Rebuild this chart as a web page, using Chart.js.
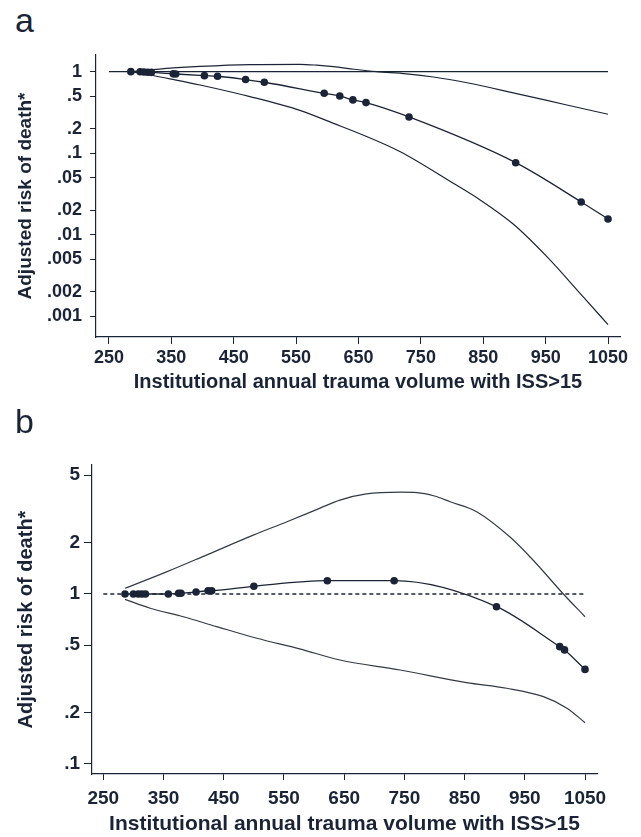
<!DOCTYPE html>
<html>
<head>
<meta charset="utf-8">
<script src="https://cdn.jsdelivr.net/npm/chart.js@4/dist/chart.umd.min.js"></script>
<style>
  body { margin: 0; background: #fff; }
  #wrap { position: relative; width: 641px; height: 837px; overflow: hidden; }
  canvas { position: absolute; left: 0; }
  .panel { position: absolute; left: 15px; font: 34px "Liberation Sans", Arial, sans-serif; color: #1b2437; line-height: 1; }
</style>
</head>
<body>
<div id="wrap">
  <div class="panel" style="top:3px">a</div>
  <canvas id="chartA" width="641" height="405" style="top:0"></canvas>
  <div class="panel" style="top:404px">b</div>
  <canvas id="chartB" width="641" height="432" style="top:405px"></canvas>
</div>
<script>
// ===============================
// DATA
// ===============================
const xTicks = [250, 350, 450, 550, 650, 750, 850, 950, 1050];
const xTickLabels = ["250", "350", "450", "550", "650", "750", "850", "950", "1050"];

const yTicksA = [1, 0.5, 0.2, 0.1, 0.05, 0.02, 0.01, 0.005, 0.002, 0.001];
const yTickLabelsA = ["1", ".5", ".2", ".1", ".05", ".02", ".01", ".005", ".002", ".001"];
const yTicksB = [5, 2, 1, 0.5, 0.2, 0.1];
const yTickLabelsB = ["5", "2", "1", ".5", ".2", ".1"];

const refX = [250, 1050];
const refY = [1, 1];

// panel a
const volumesA = [285, 300, 306, 312, 318, 353, 357, 403, 424, 469, 499, 595, 620, 641, 662, 731, 902, 1007, 1050];
const riskA = [1.0, 0.995, 0.99, 0.985, 0.98, 0.94, 0.935, 0.893, 0.878, 0.8, 0.741, 0.543, 0.503, 0.45, 0.417, 0.278, 0.0764, 0.0252, 0.0156];
const upperXA = [285, 316, 353, 396, 476, 556, 583, 610, 643, 679, 727, 770, 824, 898, 984, 1050];
const upperA = [1.0, 1.05, 1.11, 1.16, 1.22, 1.23, 1.2, 1.15, 1.07, 1.0, 0.94, 0.86, 0.73, 0.55, 0.39, 0.3];
const lowerXA = [285, 316, 350, 396, 476, 556, 610, 663, 717, 802, 845, 898, 952, 1011, 1050];
const lowerA = [1.0, 0.91, 0.81, 0.686, 0.494, 0.335, 0.232, 0.16, 0.104, 0.0427, 0.0267, 0.0135, 0.00537, 0.0017, 0.00079];

// panel b
const volumesB = [286, 300, 308, 314, 320, 358, 375, 379, 404, 424, 430, 500, 622, 733, 903, 1008, 1016, 1050];
const riskB = [1, 1, 1, 1, 1, 1, 1.01, 1.01, 1.027, 1.045, 1.046, 1.11, 1.197, 1.197, 0.842, 0.49, 0.469, 0.36];
const upperXB = [286, 355, 422, 499, 555, 610, 643, 687, 743, 771, 800, 826, 870, 925, 964, 1014, 1050];
const upperB = [1.08, 1.35, 1.7, 2.22, 2.66, 3.2, 3.57, 3.88, 3.97, 3.95, 3.77, 3.49, 3.05, 2.17, 1.58, 1.0, 0.735];
const lowerXB = [286, 328, 383, 438, 505, 576, 643, 743, 853, 920, 981, 1020, 1050];
const lowerB = [0.93, 0.824, 0.735, 0.643, 0.549, 0.476, 0.409, 0.357, 0.301, 0.279, 0.249, 0.213, 0.175];

const INK = "#1b2437";
const FONT = "'Liberation Sans', Arial, sans-serif";

const pts = (xs, ys) => xs.map((x, i) => ({ x: x, y: ys[i] }));

function makeChart(id, o) {
    const datasets = [
        { data: pts(refX, refY), borderColor: INK, borderWidth: o.refWidth, borderDash: o.refDash, pointRadius: 0 },
        { data: pts(o.upX, o.up), borderColor: o.ciColor, borderWidth: 1.2, pointRadius: 0, cubicInterpolationMode: "monotone" },
        { data: pts(o.loX, o.lo), borderColor: o.ciColor, borderWidth: 1.2, pointRadius: 0, cubicInterpolationMode: "monotone" },
        { data: pts(o.vol, o.risk), borderColor: INK, borderWidth: 1.3, pointRadius: 3.8,
          pointBackgroundColor: INK, pointBorderWidth: 0, cubicInterpolationMode: "monotone" }
    ];

    return new Chart(document.getElementById(id), {
        type: "line",
        data: { datasets: datasets },
        options: {
            responsive: false,
            animation: false,
            devicePixelRatio: 1,
            layout: { padding: o.padding },
            plugins: { legend: { display: false }, tooltip: { enabled: false } },
            scales: {
                x: {
                    type: "linear",
                    min: o.xMin, max: o.xMax,
                    afterBuildTicks: s => { s.ticks = xTicks.map(v => ({ value: v })); },
                    afterFit: s => { s.height = o.xHeight; },
                    grid: { drawOnChartArea: false, tickLength: o.xTickLen, color: INK },
                    border: { color: INK, width: 1.2 },
                    ticks: {
                        autoSkip: false, maxRotation: 0, padding: o.xPad, color: INK,
                        font: { family: FONT, weight: "bold", size: o.tickSize },
                        callback: v => xTickLabels[xTicks.indexOf(v)]
                    },
                    title: {
                        display: true, text: "Institutional annual trauma volume with ISS>15", color: INK,
                        font: { family: FONT, weight: "bold", size: o.xTitleSize },
                        padding: { top: 0, bottom: o.xTitlePad }
                    }
                },
                y: {
                    type: "logarithmic",
                    min: o.yMin, max: o.yMax,
                    afterBuildTicks: s => { s.ticks = o.yTicks.map(v => ({ value: v })); },
                    afterFit: s => { s.width = o.yWidth; },
                    grid: { drawOnChartArea: false, tickLength: o.yTickLen, color: INK },
                    border: { color: INK, width: 1.2 },
                    ticks: {
                        autoSkip: false, padding: o.yPad, color: INK,
                        font: { family: FONT, weight: "bold", size: o.tickSize },
                        callback: v => o.yLabels[o.yTicks.indexOf(v)]
                    },
                    title: {
                        display: true, text: "Adjusted risk of death*", color: INK,
                        font: { family: FONT, weight: "bold", size: o.yTitleSize },
                        padding: { top: 14, bottom: 0 }
                    }
                }
            }
        }
    });
}

makeChart("chartA", {
    vol: volumesA, risk: riskA, upX: upperXA, up: upperA, loX: lowerXA, lo: lowerA,
    refDash: [], refWidth: 1.2, ciColor: INK,
    padding: { top: 55, right: 21, left: 0, bottom: 0 },
    xMin: 229.2, xMax: 1069.2, yMin: 0.000556, yMax: 1.6,
    yTicks: yTicksA, yLabels: yTickLabelsA,
    xHeight: 68, yWidth: 96, xTickLen: 7, yTickLen: 6, xPad: 3, yPad: 8,
    tickSize: 18, xTitleSize: 20, yTitleSize: 19, xTitlePad: 11
});

makeChart("chartB", {
    vol: volumesB, risk: riskB, upX: upperXB, up: upperB, loX: lowerXB, lo: lowerB,
    refDash: [4, 3], refWidth: 1.4, ciColor: "#333a48",
    padding: { top: 60, right: 44, left: 0, bottom: 0 },
    xMin: 231.2, xMax: 1069.9, yMin: 0.0873, yMax: 5.74,
    yTicks: yTicksB, yLabels: yTickLabelsB,
    xHeight: 63, yWidth: 92, xTickLen: 6, yTickLen: 8, xPad: 7, yPad: 4,
    tickSize: 19, xTitleSize: 21, yTitleSize: 20, xTitlePad: 0
});
</script>
</body>
</html>
